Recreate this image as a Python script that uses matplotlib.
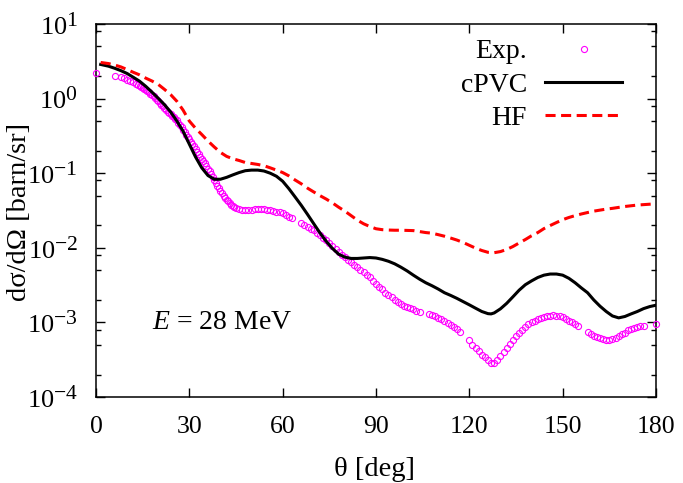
import numpy as np
import matplotlib
matplotlib.use("Agg")
import matplotlib.pyplot as plt
import matplotlib._mathtext as _mt
from matplotlib.ticker import LogLocator, FixedLocator, LogFormatterMathtext, NullFormatter

_mt.SHRINK_FACTOR = 0.82

plt.rcParams['font.family'] = ['Liberation Serif', 'DejaVu Serif']
plt.rcParams['mathtext.fontset'] = 'custom'
plt.rcParams['mathtext.rm'] = 'Liberation Serif'
plt.rcParams['mathtext.it'] = 'Liberation Serif:italic'
plt.rcParams['mathtext.bf'] = 'Liberation Serif:bold'

# ---------------- data ----------------
exp_theta = [0, 6, 8, 9, 10, 11, 12,
             13.0, 13.5, 14, 14.5, 15, 15.5, 16, 16.5, 17, 17.5, 18, 18.5, 19, 19.5,
             20, 20.5, 21, 21.5, 22, 22.5, 23, 23.5, 24, 24.5, 25, 25.5, 26, 26.5,
             27, 27.5, 28, 28.5, 29, 29.5, 30, 30.5, 31, 31.5, 32, 32.5, 33, 33.5,
             34, 34.5, 35, 35.5, 36, 36.5, 37, 37.5, 38, 38.5, 39, 39.5, 40, 40.5,
             41, 41.5, 42, 42.5, 43, 43.5, 44, 44.5, 45,
             46, 47, 48, 49, 50, 51, 52, 53, 54, 55, 56, 57, 58, 59, 60, 61, 62, 63,
             66, 67, 68, 69, 70, 71, 72, 73, 74, 75, 76, 77, 78, 79, 80, 81, 82, 83,
             84, 85, 86, 87, 88, 89, 90, 91, 92, 93, 94, 95, 96, 97, 98, 99, 100,
             101, 102, 103, 104,
             107, 108, 109, 110, 111, 112, 113, 114, 115, 116, 117,
             120, 121, 122, 123, 124, 125, 126, 127, 128, 129, 130, 131, 132, 133,
             134, 135, 136, 137, 138, 139, 140, 141, 142, 143, 144, 145, 146, 147,
             148, 149, 150, 151, 152, 153, 154, 155,
             158, 159, 160, 161, 162, 163, 164, 165, 166, 167, 168, 169, 170, 171,
             172, 173, 174, 175, 176,
             180]
exp_val = [2.2, 2.03, 1.92, 1.86, 1.80, 1.73, 1.66,
           1.58, 1.54, 1.49, 1.45, 1.40, 1.36, 1.31, 1.27, 1.22, 1.17, 1.12, 1.07, 1.02, 0.97,
           0.92, 0.875, 0.83, 0.785, 0.74, 0.70, 0.67, 0.645, 0.62, 0.59, 0.56, 0.535, 0.51, 0.475,
           0.44, 0.41, 0.38, 0.355, 0.33, 0.305, 0.285, 0.265, 0.245, 0.228, 0.21, 0.195, 0.18, 0.167,
           0.155, 0.145, 0.135, 0.125, 0.115, 0.106, 0.097, 0.088, 0.080, 0.074, 0.068, 0.063, 0.058, 0.054,
           0.050, 0.047, 0.044, 0.042, 0.040, 0.038, 0.036, 0.035, 0.034,
           0.033, 0.0325, 0.032, 0.032, 0.0325, 0.033, 0.033, 0.033, 0.0328, 0.032, 0.0318, 0.031,
           0.0305, 0.030, 0.029, 0.0275, 0.026, 0.025,
           0.0215, 0.020, 0.019, 0.018, 0.0172, 0.016, 0.0148, 0.0137, 0.0128, 0.0115, 0.0105,
           0.0096, 0.0089, 0.0081, 0.0075, 0.0069, 0.0064, 0.0059,
           0.0055, 0.0051, 0.0047, 0.0043, 0.0040, 0.0036, 0.0033, 0.0030, 0.0028, 0.0025, 0.0023,
           0.0022, 0.0020, 0.0019, 0.00178, 0.00168, 0.0016,
           0.00155, 0.0015, 0.00143, 0.00137,
           0.00128, 0.00125, 0.0012, 0.00115, 0.0011, 0.00104, 0.00098, 0.00093, 0.00088, 0.00081, 0.00075,
           0.00058, 0.0005, 0.00045, 0.00041, 0.00037, 0.00034, 0.00031, 0.00029, 0.00029, 0.00031,
           0.00035, 0.0004, 0.00046, 0.00052,
           0.00058, 0.00065, 0.00072, 0.0008, 0.00088, 0.00095, 0.001, 0.00106, 0.0011, 0.00115,
           0.00119, 0.00121, 0.00123, 0.00124,
           0.00123, 0.0012, 0.00117, 0.00112, 0.00106, 0.001, 0.00094, 0.00089,
           0.00074, 0.0007, 0.00066, 0.00063, 0.00061, 0.00059, 0.00058, 0.00058, 0.0006, 0.00062,
           0.00065, 0.00069, 0.00073, 0.00078,
           0.00082, 0.00085, 0.00087, 0.00089, 0.0009,
           0.00095]

cpvc_theta = [1.5, 4, 6, 8, 10, 12, 14, 16, 18, 20, 22, 24, 26, 28, 30, 32, 34, 36, 38, 40,
              42, 44, 46, 48, 50, 52, 54, 56, 58, 60, 62, 64, 66, 68, 70, 72, 74, 76, 78, 80,
              82, 84, 86, 88, 90, 92, 94, 96, 98, 100, 102, 104, 106, 108, 110, 112, 114, 116,
              118, 120, 122, 124, 126, 127, 128, 130, 132, 134, 136, 138, 140, 142, 144, 146,
              148, 150, 152, 154, 156, 158, 160, 162, 164, 166, 168, 170, 172, 174, 176, 178, 180]
cpvc_val = [2.87, 2.72, 2.55, 2.37, 2.17, 1.93, 1.71, 1.46, 1.22, 1.01, 0.83, 0.66, 0.50, 0.365,
            0.245, 0.165, 0.118, 0.093, 0.083, 0.083,
            0.088, 0.095, 0.102, 0.108, 0.110, 0.110, 0.107, 0.100, 0.091, 0.078, 0.062, 0.048,
            0.037, 0.028, 0.021, 0.0158, 0.0122, 0.0098, 0.0082, 0.0075,
            0.0072, 0.0072, 0.0073, 0.0074, 0.0073, 0.0070, 0.0066, 0.0061, 0.0055, 0.0049,
            0.0043, 0.0038, 0.0034, 0.0031, 0.0028, 0.0025, 0.0023, 0.0021,
            0.0019, 0.00172, 0.00155, 0.0014, 0.00131, 0.0013, 0.00134, 0.00152, 0.0018, 0.0022,
            0.0027, 0.0032, 0.0036, 0.0040, 0.0043, 0.00445,
            0.00445, 0.0043, 0.0039, 0.0034, 0.0029, 0.0025, 0.0020, 0.00165, 0.0014, 0.00122,
            0.00115, 0.0012, 0.0013, 0.0014, 0.00153, 0.00163, 0.0017]

hf_theta = [1.5, 4, 6, 8, 10, 12, 14, 16, 18, 20, 22, 24, 26, 28, 30, 32, 34, 36, 38, 40,
            42, 44, 46, 48, 50, 52, 54, 56, 58, 60, 62, 64, 66, 68, 70, 72, 74, 76, 78, 80,
            82, 84, 86, 88, 90, 92, 94, 96, 98, 100, 102, 104, 106, 108, 110, 112, 114, 116,
            118, 120, 122, 124, 126, 128, 130, 132, 134, 136, 138, 140, 142, 144, 146, 148,
            150, 152, 154, 156, 158, 160, 162, 164, 166, 168, 170, 172, 174, 176, 178, 180]
hf_val = [3.05, 2.95, 2.82, 2.66, 2.45, 2.25, 2.08, 1.88, 1.72, 1.55, 1.33, 1.13, 0.92, 0.70,
          0.50, 0.40, 0.33, 0.27, 0.225, 0.19,
          0.168, 0.156, 0.148, 0.139, 0.135, 0.131, 0.126, 0.118, 0.110, 0.102, 0.092, 0.081,
          0.072, 0.063, 0.056, 0.050, 0.045, 0.040, 0.035, 0.031,
          0.027, 0.0235, 0.021, 0.0193, 0.018, 0.0175, 0.0173, 0.0172, 0.0172, 0.0171,
          0.017, 0.0165, 0.016, 0.0157, 0.015, 0.0143, 0.0135, 0.0127,
          0.0118, 0.0108, 0.0099, 0.0092, 0.0087, 0.0086, 0.0089, 0.0095, 0.0104, 0.0116,
          0.0129, 0.0145, 0.016, 0.0181, 0.0199, 0.0218,
          0.0238, 0.0255, 0.027, 0.0284, 0.0297, 0.031, 0.032, 0.033, 0.0338, 0.0348,
          0.0358, 0.0366, 0.0374, 0.0379, 0.0384, 0.0388]

x_ticks = [0, 30, 60, 90, 120, 150, 180]

# ---------------- figure ----------------
fig = plt.figure(figsize=(6.83, 4.83), dpi=100)
ax = fig.add_axes([96/683, 86/483, 560/683, 373/483])

ax.plot(exp_theta, exp_val, linestyle='none', marker='o', ms=4.4, mfc='none',
        mec='#ff00ff', mew=0.8, label='Exp.', clip_on=False, zorder=3)
ax.plot(cpvc_theta, cpvc_val, color='black', lw=2.2, label='cPVC', zorder=4)
ax.plot(hf_theta, hf_val, color='#ff0000', lw=2.2, dashes=(3.3, 1.8), label='HF', zorder=4)

ax.set_yscale('log')
ax.set_xlim(0, 180)
ax.set_ylim(1e-4, 10)
ax.xaxis.set_major_locator(FixedLocator(x_ticks))
ax.yaxis.set_major_locator(LogLocator(base=10, numticks=10))
ax.yaxis.set_minor_locator(LogLocator(base=10, subs=[2, 5, 8], numticks=10))
ax.yaxis.set_major_formatter(LogFormatterMathtext())
ax.yaxis.set_minor_formatter(NullFormatter())

ax.tick_params(which='both', direction='in', top=True, right=True)
ax.tick_params(axis='x', labelsize=18.5, pad=14)
ax.tick_params(axis='y', labelsize=19, pad=13)
ax.tick_params(which='major', length=6.5, width=1.0)
ax.tick_params(which='minor', length=3.5, width=1.0)
for s in ax.spines.values():
    s.set_linewidth(1.1)

ax.set_xlabel('θ [deg]', fontsize=20.5, va='center')
ax.xaxis.set_label_coords((375-96)/560, (397-470)/373)
ax.set_ylabel('dσ/dΩ [barn/sr]', fontsize=20.5, va='center')
ax.yaxis.set_label_coords((20-96)/560, 0.495)

ax.text(18.1, 1e-3, '$E$ = 28 MeV', fontsize=20, ha='left', va='center')

leg = ax.legend(loc='upper right', bbox_to_anchor=(622/683, 1-39/483),
                bbox_transform=fig.transFigure, frameon=False, markerfirst=False,
                fontsize=20, handlelength=2.77, handletextpad=0.65, labelspacing=0.28,
                borderpad=0, borderaxespad=0, numpoints=1)
for t in leg.get_texts():
    t.set_ha('right')

fig.savefig('out.png', dpi=100)
